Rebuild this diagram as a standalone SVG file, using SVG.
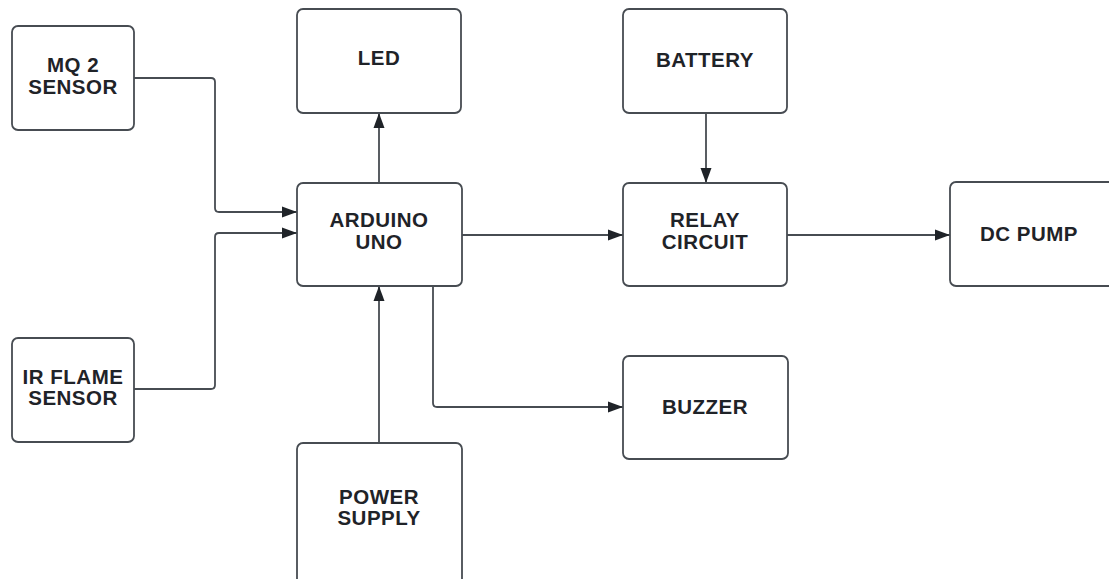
<svg xmlns="http://www.w3.org/2000/svg" width="1109" height="579" viewBox="0 0 1109 579">
<style>
.box{fill:#fff;stroke:#474c52;stroke-width:1.8}
.lbl{font-family:"Liberation Sans",Arial,sans-serif;font-weight:bold;font-size:20.5px;letter-spacing:0.5px;fill:#1f2328;text-anchor:middle}
.wire{fill:none;stroke:#474c52;stroke-width:1.8}
</style>
<defs>
<marker id="arr" markerUnits="userSpaceOnUse" markerWidth="16" markerHeight="12" refX="15" refY="6" orient="auto">
<path d="M0,0.5 L15,6 L0,11.5 Z" fill="#1f2328"/>
</marker>
</defs>
<rect width="1109" height="579" fill="#fff"/>
<g id="connectors">
<path class="wire" marker-end="url(#arr)" d="M134,78 H211 Q215,78 215,82 V208 Q215,212 219,212 H297"/>
<path class="wire" marker-end="url(#arr)" d="M134,389 H211 Q215,389 215,385 V237 Q215,233 219,233 H297"/>
<path class="wire" marker-end="url(#arr)" d="M379,183 V113"/>
<path class="wire" marker-end="url(#arr)" d="M379,443 V286"/>
<path class="wire" marker-end="url(#arr)" d="M706,113 V183"/>
<path class="wire" marker-end="url(#arr)" d="M462,235 H623"/>
<path class="wire" marker-end="url(#arr)" d="M787,235 H950"/>
<path class="wire" marker-end="url(#arr)" d="M433,286 V403 Q433,407 437,407 H623"/>
</g>
<g id="mq2">
<rect class="box" x="12" y="26" width="122" height="104" rx="6"/>
<text class="lbl" x="73" y="72">MQ 2</text>
<text class="lbl" x="73" y="94">SENSOR</text>
</g>
<g id="irflame">
<rect class="box" x="12" y="338" width="122" height="104" rx="6"/>
<text class="lbl" x="73" y="384">IR FLAME</text>
<text class="lbl" x="73" y="405">SENSOR</text>
</g>
<g id="led">
<rect class="box" x="297" y="9" width="164" height="104" rx="6"/>
<text class="lbl" x="379" y="65">LED</text>
</g>
<g id="arduino">
<rect class="box" x="297" y="183" width="165" height="103" rx="6"/>
<text class="lbl" x="379" y="227">ARDUINO</text>
<text class="lbl" x="379" y="249">UNO</text>
</g>
<g id="power">
<rect class="box" x="297" y="443" width="165" height="145" rx="6"/>
<text class="lbl" x="379" y="504">POWER</text>
<text class="lbl" x="379" y="525">SUPPLY</text>
</g>
<g id="battery">
<rect class="box" x="623" y="9" width="164" height="104" rx="6"/>
<text class="lbl" x="705" y="67">BATTERY</text>
</g>
<g id="relay">
<rect class="box" x="623" y="183" width="164" height="103" rx="6"/>
<text class="lbl" x="705" y="227">RELAY</text>
<text class="lbl" x="705" y="249">CIRCUIT</text>
</g>
<g id="buzzer">
<rect class="box" x="623" y="356" width="165" height="103" rx="6"/>
<text class="lbl" x="705" y="414">BUZZER</text>
</g>
<g id="dcpump">
<rect class="box" x="950" y="182" width="168" height="104" rx="6"/>
<text class="lbl" x="1029" y="241">DC PUMP</text>
</g>
</svg>
